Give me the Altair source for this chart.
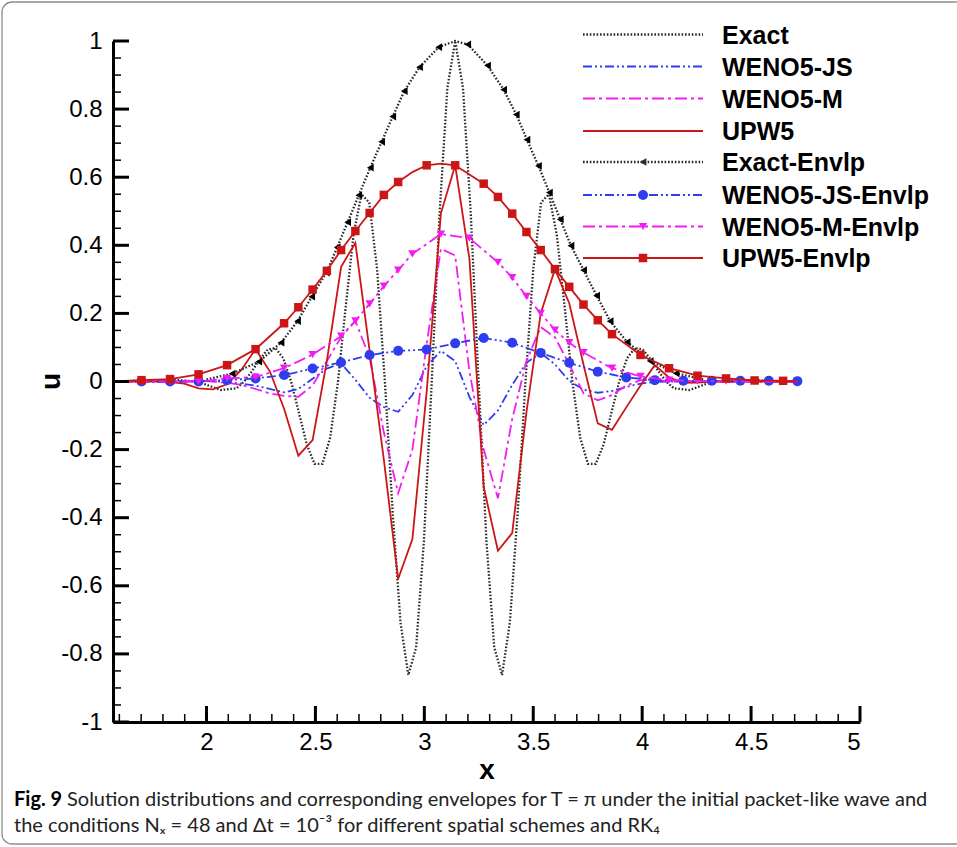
import altair as alt
import pandas as pd

# ---------------- data ----------------
# common grid x_j = pi/2 + j*pi/48
X_GRID = [1.5708, 1.6362, 1.7017, 1.7671, 1.8326, 1.8980, 1.9635, 2.0289, 2.0944, 2.1598,
          2.2253, 2.2907, 2.3562, 2.4216, 2.4871, 2.5525, 2.6180, 2.6834, 2.7489, 2.8143,
          2.8798, 2.9452, 3.0107, 3.0761, 3.1416, 3.2070, 3.2725, 3.3379, 3.4034, 3.4688,
          3.5343, 3.5997, 3.6652, 3.7306, 3.7961, 3.8615, 3.9270, 3.9924, 4.0579, 4.1233,
          4.1888, 4.2542, 4.3197, 4.3851, 4.4506, 4.5160, 4.5815, 4.6469, 4.7124]

UPW5 = [0.0, 0.0, 0.0, 0.0, -0.002, -0.006, -0.020, -0.023, -0.008, 0.034,
        0.095, 0.030, -0.080, -0.218, -0.172, 0.060, 0.337, 0.407, 0.090, -0.230,
        -0.580, -0.463, -0.030, 0.494, 0.635, 0.360, -0.310, -0.497, -0.445, -0.090,
        0.200, 0.330, 0.230, 0.050, -0.123, -0.142, -0.076, -0.012, 0.048, 0.012,
        -0.004, -0.003, 0.0, 0.0, 0.0, 0.0, 0.0, 0.0, 0.0]

WENO5_JS = [0.0, 0.0, 0.0, 0.0, 0.0, 0.0, 0.002, 0.002, -0.002, -0.006,
            -0.012, -0.022, -0.032, -0.022, 0.008, 0.038, 0.053, 0.005, -0.048, -0.075,
            -0.089, -0.040, 0.045, 0.090, 0.060, -0.045, -0.128, -0.085, -0.010, 0.055,
            0.084, 0.050, 0.002, -0.024, -0.033, -0.028, -0.016, -0.006, -0.001, 0.0,
            0.0, 0.0, 0.0, 0.0, 0.0, 0.0, 0.0, 0.0, 0.0]

WENO5_M = [0.0, 0.0, 0.0, 0.0, 0.0, 0.0, 0.002, 0.0, -0.004, -0.010,
           -0.022, -0.035, -0.042, -0.045, -0.012, 0.060, 0.130, 0.178, 0.070, -0.150,
           -0.328, -0.200, 0.110, 0.390, 0.370, 0.030, -0.200, -0.343, -0.110, 0.060,
           0.160, 0.130, 0.050, -0.035, -0.055, -0.040, -0.012, 0.004, 0.005, 0.0,
           0.0, 0.0, 0.0, 0.0, 0.0, 0.0, 0.0, 0.0, 0.0]

EXACT_X = [1.5708, 1.8506, 1.9582, 2.0658, 2.1375, 2.1734, 2.2092, 2.2451, 2.2810, 2.3168,
           2.3527, 2.3885, 2.4244, 2.4603, 2.4961, 2.5320, 2.5678, 2.6037, 2.6396, 2.6754,
           2.7113, 2.7471, 2.7830, 2.8189, 2.8547, 2.8906, 2.9264, 2.9623, 2.9982, 3.0340,
           3.0699, 3.1057, 3.1416, 3.1775, 3.2133, 3.2492, 3.2850, 3.3209, 3.3568, 3.3926,
           3.4285, 3.4643, 3.5002, 3.5361, 3.5719, 3.6078, 3.6436, 3.6795, 3.7154, 3.7512,
           3.7871, 3.8229, 3.8588, 3.8947, 3.9305, 3.9664, 4.0022, 4.0381, 4.0740, 4.1098,
           4.1457, 4.2174, 4.3250, 4.4326, 4.7124]
EXACT_U = [0.0, 0.005, 0.0, -0.025, -0.020, 0.0, 0.031, 0.066, 0.094, 0.098,
           0.068, 0.0, -0.092, -0.185, -0.242, -0.242, -0.165, 0.0, 0.223, 0.432,
           0.550, 0.526, 0.331, 0.0, -0.384, -0.708, -0.862, -0.781, -0.468, 0.0,
           0.492, 0.862, 1.0, 0.862, 0.492, 0.0, -0.468, -0.781, -0.862, -0.708,
           -0.384, 0.0, 0.331, 0.526, 0.550, 0.432, 0.223, 0.0, -0.165, -0.242,
           -0.242, -0.185, -0.092, 0.0, 0.068, 0.098, 0.094, 0.066, 0.031, 0.0,
           -0.020, -0.025, 0.0, 0.005, 0.0]

EXACT_ENV_X = [2.000, 2.118, 2.240, 2.342, 2.418, 2.483, 2.550, 2.600, 2.648, 2.699,
               2.752, 2.804, 2.855, 2.908, 2.978, 3.066, 3.1416, 3.199, 3.290, 3.364,
               3.422, 3.471, 3.524, 3.574, 3.624, 3.673, 3.731, 3.791, 3.853, 3.931,
               4.037, 4.156, 4.280]
EXACT_ENV_U = [0.006, 0.023, 0.058, 0.114, 0.177, 0.249, 0.320, 0.394, 0.468, 0.547,
               0.628, 0.704, 0.778, 0.853, 0.923, 0.982, 1.000, 0.990, 0.928, 0.857,
               0.784, 0.710, 0.633, 0.555, 0.476, 0.399, 0.327, 0.252, 0.177, 0.116,
               0.060, 0.024, 0.006]
EXACT_ENV_MARK = [False] + [True] * 15 + [False] + [True] * 15 + [False]

JS_ENV_X = [1.5708, 1.7017, 1.8326, 1.9635, 2.0944, 2.2253, 2.3562, 2.4871, 2.6180, 2.7489,
            2.8798, 3.0107, 3.1416, 3.2725, 3.4034, 3.5343, 3.6652, 3.7961, 3.9270, 4.0579,
            4.1888, 4.3197, 4.4506, 4.5815, 4.7124]
JS_ENV_U = [0.0, 0.0, 0.0, 0.0, 0.004, 0.009, 0.019, 0.038, 0.056, 0.078,
            0.090, 0.094, 0.112, 0.128, 0.114, 0.084, 0.055, 0.029, 0.012, 0.004,
            0.002, 0.002, 0.002, 0.002, 0.001]
JS_ENV_MARK = [False] + [True] * 24

M_ENV_X = [1.5708, 1.7017, 1.8326, 1.9635, 2.0944, 2.2253, 2.3562, 2.4871, 2.6180, 2.6834,
           2.7489, 2.8143, 2.8798, 2.9452, 3.0761, 3.2070, 3.3379, 3.4034, 3.4688, 3.5343,
           3.5997, 3.6652, 3.7306, 3.8615, 3.9924, 4.1233, 4.2542, 4.3851, 4.5160, 4.6469,
           4.7124]
M_ENV_U = [0.0, 0.0, 0.0, 0.0, 0.009, 0.013, 0.039, 0.079, 0.133, 0.178,
           0.228, 0.280, 0.327, 0.375, 0.433, 0.421, 0.350, 0.305, 0.250, 0.200,
           0.151, 0.114, 0.085, 0.039, 0.015, 0.004, 0.001, 0.001, 0.0, 0.0,
           0.0]
M_ENV_MARK = [False] + [True] * 29 + [False]

UPW5_ENV_X = [1.5708, 1.7017, 1.8326, 1.9635, 2.0944, 2.2253, 2.3562, 2.4216, 2.4871, 2.5525,
              2.6180, 2.6834, 2.7489, 2.8143, 2.8798, 2.9452, 3.0107, 3.0761, 3.1416, 3.2725,
              3.3379, 3.4034, 3.4688, 3.5343, 3.5997, 3.6652, 3.7306, 3.7961, 3.8615, 3.9924,
              4.1233, 4.2542, 4.3851, 4.5160, 4.6469, 4.7124]
UPW5_ENV_U = [0.0, 0.004, 0.007, 0.021, 0.048, 0.095, 0.171, 0.218, 0.270, 0.325,
              0.386, 0.442, 0.495, 0.548, 0.586, 0.615, 0.635, 0.640, 0.635, 0.581,
              0.542, 0.493, 0.439, 0.386, 0.330, 0.278, 0.226, 0.180, 0.139, 0.078,
              0.039, 0.017, 0.009, 0.003, 0.002, 0.0]
UPW5_ENV_MARK = ([False] + [True] * 14 + [False, True, False] + [True] * 17 + [False])

LEGEND_LABELS = ["Exact", "WENO5-JS", "WENO5-M", "UPW5",
                 "Exact-Envlp", "WENO5-JS-Envlp", "WENO5-M-Envlp", "UPW5-Envlp"]

X_MAJOR = [2, 2.5, 3, 3.5, 4, 4.5, 5]
Y_MAJOR = [-1, -0.8, -0.6, -0.4, -0.2, 0, 0.2, 0.4, 0.6, 0.8, 1]
X_MINOR = [round(1.6 + 0.1 * i, 2) for i in range(35)]
X_MINOR = [v for v in X_MINOR if round(v * 2, 6) != round(v * 2)]
Y_MINOR = [round(-1 + 0.05 * i, 2) for i in range(41)]
Y_MINOR = [v for v in Y_MINOR if round(v * 5, 6) != round(v * 5)]

CAPTION_BOLD = "Fig. 9"
CAPTION_1 = "Solution distributions and corresponding envelopes for T = \u03c0 under the initial packet-like wave and"
CAPTION_2 = "the conditions N\u2093 = 48 and \u0394t = 10\u207b\u00b3 for different spatial schemes and RK\u2084"

# ---------------- styles ----------------
FONT = "Liberation Sans, Arial, Helvetica, sans-serif"
CAP_FONT = "Lato, Liberation Sans, sans-serif"
BLACK = "#2a2a2a"
BLUE = "#2f3cf0"
MAG = "#f21cf2"
RED = "#cc1616"
DOT = [1.6, 1.8]
DASH_JS = [9, 3, 2, 3, 2, 3]
DASH_M = [12, 4, 3, 4]

W, H = 747, 681
PAD = {"left": 113, "top": 41, "right": 97, "bottom": 125}

xs = alt.Scale(domain=[1.5707963, 5], nice=False, zero=False)
ys = alt.Scale(domain=[-1, 1], nice=False, zero=False)
lab = "replace(format(datum.value, '~g'), '\u2212', '-')"
xaxis = alt.Axis(values=X_MAJOR, labelExpr=lab, ticks=False, grid=False, domainWidth=3,
                 domainColor="black", labelFont=FONT, labelFontSize=24, labelColor="black",
                 labelPadding=8, title="x", titleFont=FONT, titleFontSize=28,
                 titleFontWeight="bold", titleColor="black", titlePadding=2)
yaxis = alt.Axis(values=Y_MAJOR, labelExpr=lab, ticks=False, grid=False, domainWidth=3,
                 domainColor="black", labelFont=FONT, labelFontSize=24, labelColor="black",
                 labelPadding=11, title="u", titleFont=FONT, titleFontSize=28,
                 titleFontWeight="bold", titleColor="black", titleAngle=270,
                 titleAlign="center", titleBaseline="middle", titleX=-62, titleY=340)


def X(field="x"):
    return alt.X(f"{field}:Q", scale=xs, axis=xaxis)


def Y(field="u"):
    return alt.Y(f"{field}:Q", scale=ys, axis=yaxis)


def line_layer(xv, uv, color, dash=None, width=1.8):
    df = pd.DataFrame({"x": xv, "u": uv})
    kw = dict(color=color, strokeWidth=width, clip=False)
    if dash is not None:
        kw["strokeDash"] = dash
    return alt.Chart(df).mark_line(**kw).encode(x=X(), y=Y())


def marker_layer(xv, uv, mark, shape, color, size):
    df = pd.DataFrame({"x": xv, "u": uv, "m": mark})
    df = df[df["m"]]
    return alt.Chart(df).mark_point(shape=shape, filled=True, color=color, size=size,
                                    opacity=1).encode(x=X(), y=Y())


layers = []
# solutions
layers.append(line_layer(EXACT_X, EXACT_U, BLACK, DOT, 2.3))
layers.append(line_layer(X_GRID, WENO5_JS, BLUE, DASH_JS, 1.8))
layers.append(line_layer(X_GRID, WENO5_M, MAG, DASH_M, 1.8))
layers.append(line_layer(X_GRID, UPW5, RED, None, 1.8))
# envelopes
layers.append(line_layer(EXACT_ENV_X, EXACT_ENV_U, BLACK, DOT, 2.3))
layers.append(marker_layer(EXACT_ENV_X, EXACT_ENV_U, EXACT_ENV_MARK, "triangle-left", "black", 60))
layers.append(line_layer(JS_ENV_X, JS_ENV_U, BLUE, DASH_JS, 1.8))
layers.append(marker_layer(JS_ENV_X, JS_ENV_U, JS_ENV_MARK, "circle", BLUE, 100))
layers.append(line_layer(M_ENV_X, M_ENV_U, MAG, DASH_M, 1.8))
layers.append(marker_layer(M_ENV_X, M_ENV_U, M_ENV_MARK, "triangle-down", MAG, 70))
layers.append(line_layer(UPW5_ENV_X, UPW5_ENV_U, RED, None, 1.8))
layers.append(marker_layer(UPW5_ENV_X, UPW5_ENV_U, UPW5_ENV_MARK, "square", RED, 72))

# inward Tecplot-style ticks
def yticks(vals, length, width):
    return alt.Chart(pd.DataFrame({"v": vals})).mark_rule(color="black", strokeWidth=width).encode(
        y=alt.Y("v:Q", scale=ys, axis=yaxis), x=alt.value(0), x2=alt.value(length))


def xticks(vals, length, width):
    return alt.Chart(pd.DataFrame({"v": vals})).mark_rule(color="black", strokeWidth=width).encode(
        x=alt.X("v:Q", scale=xs, axis=xaxis), y=alt.value(H), y2=alt.value(H - length))


layers += [yticks(Y_MAJOR, 16, 3), yticks(Y_MINOR, 8, 1.5),
           xticks(X_MAJOR, 16, 3), xticks(X_MINOR, 8, 1.5)]

# legend (top right, no frame)
one = pd.DataFrame({"a": [0]})
LEG_Y = [-6.5, 25.5, 57.5, 90, 121, 154, 185.5, 217]
LEG_STYLE = [(BLACK, DOT, 2.3, None, None), (BLUE, DASH_JS, 1.8, None, None),
             (MAG, DASH_M, 1.8, None, None), (RED, None, 1.8, None, None),
             (BLACK, DOT, 2.3, "triangle-left", 60), (BLUE, DASH_JS, 1.8, "circle", 100),
             (MAG, DASH_M, 1.8, "triangle-down", 70), (RED, None, 1.8, "square", 72)]
for label, yy, (col, dash, wd, shp, sz) in zip(LEGEND_LABELS, LEG_Y, LEG_STYLE):
    kw = dict(color=col, strokeWidth=wd)
    if dash is not None:
        kw["strokeDash"] = dash
    layers.append(alt.Chart(one).mark_rule(**kw).encode(
        x=alt.value(470), x2=alt.value(590), y=alt.value(yy)))
    if shp is not None:
        layers.append(alt.Chart(one).mark_point(shape=shp, filled=True, color=col, size=sz,
                                                opacity=1).encode(
            x=alt.value(530), y=alt.value(yy)))
    layers.append(alt.Chart(one).mark_text(text=label, align="left", baseline="middle",
                                           font=FONT, fontSize=25, fontWeight="bold",
                                           color="black").encode(
        x=alt.value(609), y=alt.value(yy + 1)))

# caption and frame
layers.append(alt.Chart(one).mark_text(text=CAPTION_BOLD, align="left", baseline="alphabetic",
                                       font=CAP_FONT, fontSize=20, fontWeight="bold",
                                       color="black").encode(x=alt.value(-99), y=alt.value(765)))
layers.append(alt.Chart(one).mark_text(text=CAPTION_1, align="left", baseline="alphabetic",
                                       font=CAP_FONT, fontSize=20, color="#222").encode(
    x=alt.value(-46), y=alt.value(765)))
layers.append(alt.Chart(one).mark_text(text=CAPTION_2, align="left", baseline="alphabetic",
                                       font=CAP_FONT, fontSize=20, color="#222").encode(
    x=alt.value(-99), y=alt.value(791)))
layers.append(alt.Chart(one).mark_rect(filled=False, stroke="#8c8c8c", strokeWidth=1.3,
                                       cornerRadius=10).encode(
    x=alt.value(-111), x2=alt.value(852), y=alt.value(-39), y2=alt.value(803)))

chart = alt.layer(*layers).properties(
    width=W, height=H, padding=PAD, background="white",
    autosize=alt.AutoSizeParams(type="none"),
).configure_view(stroke=None)

chart.save("out.html", embed_options={"renderer": "svg", "actions": False})
